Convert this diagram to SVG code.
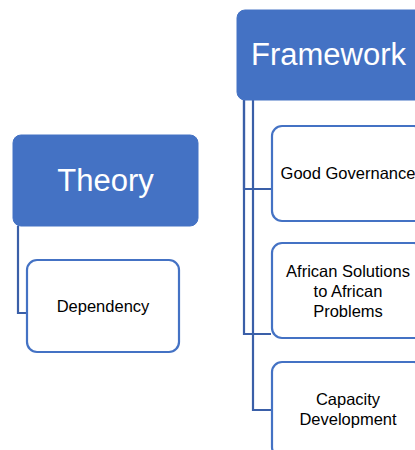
<svg xmlns="http://www.w3.org/2000/svg" width="415" height="450" viewBox="0 0 415 450">
  <style>
    .head { fill: #4472C4; stroke: #4472C4; stroke-width: 1; }
    .child { fill: #FFFFFF; stroke: #4472C4; stroke-width: 2.2; }
    .conn { fill: none; stroke: #3A5FA8; stroke-width: 2.2; }
    .htxt { font-family: "Liberation Sans", Arial, sans-serif; font-size: 31px; fill: #FFFFFF; }
    .ctxt { font-family: "Liberation Sans", Arial, sans-serif; font-size: 16.5px; fill: #000000; text-anchor: middle; }
  </style>
  <rect width="415" height="450" fill="#FFFFFF"/>

  <g id="connectors">
    <!-- Theory -> Dependency -->
    <path class="conn" d="M18,226 V313 H28"/>
    <path d="M28,313 H40" stroke="#C9D5EC" stroke-width="2"/>
    <!-- Framework -> children -->
    <path class="conn" d="M244,100 V189 H271"/>
    <path class="conn" d="M244,100 V334 H271"/>
    <path class="conn" d="M253,100 V410 H272"/>
  </g>

  <g id="theory">
    <rect class="head" x="13" y="135" width="185" height="91" rx="8"/>
    <text class="htxt" x="105.5" y="191" text-anchor="middle">Theory</text>
  </g>

  <g id="dependency">
    <rect class="child" x="27" y="260" width="152" height="92" rx="10"/>
    <text class="ctxt" x="103" y="312">Dependency</text>
  </g>

  <g id="framework">
    <rect class="head" x="237" y="10" width="200" height="90" rx="8"/>
    <text class="htxt" x="251" y="65">Framework</text>
  </g>

  <g id="good-governance">
    <rect class="child" x="272" y="126" width="152" height="95" rx="10"/>
    <text class="ctxt" x="348" y="179">Good Governance</text>
  </g>

  <g id="african-solutions">
    <rect class="child" x="272" y="243" width="152" height="95" rx="10"/>
    <text class="ctxt" x="348" y="277">African Solutions</text>
    <text class="ctxt" x="348" y="297">to African</text>
    <text class="ctxt" x="348" y="317">Problems</text>
  </g>

  <g id="capacity-development">
    <rect class="child" x="272" y="362" width="152" height="95" rx="10"/>
    <text class="ctxt" x="348" y="405">Capacity</text>
    <text class="ctxt" x="348" y="425">Development</text>
  </g>
</svg>
